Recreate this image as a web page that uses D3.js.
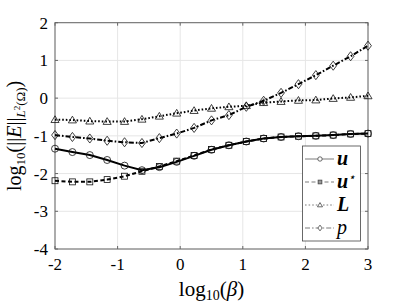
<!DOCTYPE html>
<html>
<head>
<meta charset="utf-8">
<script src="https://cdn.jsdelivr.net/npm/d3@7"></script>
<style>
  body { margin: 0; background: #fff; }
  svg text { font-family: "Liberation Serif", "DejaVu Serif", serif; fill: #000; }
</style>
</head>
<body>
<div id="chart"></div>
<script>
// log10(beta) sample points, 19 of them from -2 to 3
const xValues = [-2, -1.722, -1.444, -1.167, -0.889, -0.611, -0.333, -0.056, 0.222, 0.5,
  0.778, 1.056, 1.333, 1.611, 1.889, 2.167, 2.444, 2.722, 3];

const uValues = [-1.34, -1.43, -1.51, -1.64, -1.79, -1.91, -1.83, -1.69, -1.53, -1.37,
  -1.25, -1.15, -1.07, -1.03, -1.01, -1.00, -0.98, -0.95, -0.94];
const uStarValues = [-2.19, -2.22, -2.22, -2.16, -2.07, -1.94, -1.81, -1.67, -1.52, -1.36,
  -1.25, -1.15, -1.07, -1.03, -1.01, -1.00, -0.98, -0.95, -0.94];
const lValues = [-0.57, -0.58, -0.61, -0.62, -0.62, -0.56, -0.48, -0.40, -0.33, -0.27,
  -0.23, -0.20, -0.12, -0.09, -0.06, -0.05, -0.01, 0.02, 0.06];
const pValues = [-0.98, -1.03, -1.07, -1.13, -1.17, -1.19, -1.06, -0.94, -0.79, -0.59,
  -0.45, -0.23, -0.07, 0.14, 0.37, 0.61, 0.86, 1.11, 1.39];

const xTicks = [-2, -1, 0, 1, 2, 3];
const yTicks = [-4, -3, -2, -1, 0, 1, 2];

const series = [
  { key: "u", values: uValues, dash: null, marker: "circle" },
  { key: "ustar", values: uStarValues, dash: "4,2.5", marker: "square" },
  { key: "L", values: lValues, dash: "1.6,2", marker: "triangle" },
  { key: "p", values: pValues, dash: "5,2,1.6,2", marker: "diamond" }
];

const width = 407, height = 305;
const plot = { left: 55, right: 368, top: 22.7, bottom: 249 };

const svg = d3.select("#chart").append("svg")
  .attr("width", width)
  .attr("height", height);

const x = d3.scaleLinear().domain([-2, 3]).range([plot.left, plot.right]);
const y = d3.scaleLinear().domain([-4, 2]).range([plot.bottom, plot.top]);

// grid
const grid = svg.append("g");
xTicks.forEach(t => {
  grid.append("line")
    .attr("x1", x(t)).attr("x2", x(t))
    .attr("y1", plot.top).attr("y2", plot.bottom)
    .attr("stroke", "#e6e6e6").attr("stroke-width", 1);
});
yTicks.forEach(t => {
  grid.append("line")
    .attr("x1", plot.left).attr("x2", plot.right)
    .attr("y1", y(t)).attr("y2", y(t))
    .attr("stroke", "#e6e6e6").attr("stroke-width", 1);
});

// axes box with inward ticks
const axisColor = "#666";
svg.append("rect")
  .attr("x", plot.left).attr("y", plot.top)
  .attr("width", plot.right - plot.left)
  .attr("height", plot.bottom - plot.top)
  .attr("fill", "none").attr("stroke", axisColor).attr("stroke-width", 1);

const tickLen = 3;
xTicks.forEach(t => {
  svg.append("line").attr("x1", x(t)).attr("x2", x(t))
    .attr("y1", plot.bottom).attr("y2", plot.bottom - tickLen)
    .attr("stroke", axisColor);
  svg.append("line").attr("x1", x(t)).attr("x2", x(t))
    .attr("y1", plot.top).attr("y2", plot.top + tickLen)
    .attr("stroke", axisColor);
  svg.append("text")
    .attr("x", x(t)).attr("y", plot.bottom + 21)
    .attr("text-anchor", "middle")
    .attr("font-size", 17)
    .text(t < 0 ? "-" + Math.abs(t) : t);
});
yTicks.forEach(t => {
  svg.append("line").attr("x1", plot.left).attr("x2", plot.left + tickLen)
    .attr("y1", y(t)).attr("y2", y(t)).attr("stroke", axisColor);
  svg.append("line").attr("x1", plot.right).attr("x2", plot.right - tickLen)
    .attr("y1", y(t)).attr("y2", y(t)).attr("stroke", axisColor);
  svg.append("text")
    .attr("x", plot.left - 7).attr("y", y(t))
    .attr("dy", "0.35em")
    .attr("text-anchor", "end")
    .attr("font-size", 17)
    .text(t < 0 ? "-" + Math.abs(t) : t);
});

// markers
function drawMarker(g, type, cx, cy, s, color, fill) {
  if (type === "circle") {
    g.append("circle").attr("cx", cx).attr("cy", cy).attr("r", s)
      .attr("fill", fill).attr("stroke", color).attr("stroke-width", 0.8);
  } else if (type === "square") {
    g.append("rect").attr("x", cx - s * 0.85).attr("y", cy - s * 0.85)
      .attr("width", s * 1.7).attr("height", s * 1.7)
      .attr("fill", fill).attr("stroke", color).attr("stroke-width", 0.8);
  } else if (type === "triangle") {
    const h = s * 1.1;
    g.append("path")
      .attr("d", `M${cx},${cy - h}L${cx + h * 1.05},${cy + h * 0.75}L${cx - h * 1.05},${cy + h * 0.75}Z`)
      .attr("fill", fill).attr("stroke", color).attr("stroke-width", 0.8);
  } else if (type === "diamond") {
    const h = s * 1.3;
    g.append("path")
      .attr("d", `M${cx},${cy - h}L${cx + h * 0.75},${cy}L${cx},${cy + h}L${cx - h * 0.75},${cy}Z`)
      .attr("fill", fill).attr("stroke", color).attr("stroke-width", 0.8);
  }
}

const line = d3.line()
  .x((d, i) => x(xValues[i]))
  .y(d => y(d));

const dataG = svg.append("g");
series.forEach(s => {
  dataG.append("path")
    .datum(s.values)
    .attr("fill", "none")
    .attr("stroke", "#000")
    .attr("stroke-width", 2)
    .attr("stroke-dasharray", s.dash)
    .attr("d", line);
  s.values.forEach((v, i) => {
    drawMarker(dataG, s.marker, x(xValues[i]), y(v), 3.5, "#111", "none");
  });
});

// legend
const legend = svg.append("g");
legend.append("rect")
  .attr("x", 302.5).attr("y", 146)
  .attr("width", 58).attr("height", 95)
  .attr("fill", "#fff").attr("stroke", "#444").attr("stroke-width", 0.8);

const legendRows = [
  { s: series[0], y: 159, label: "u", bold: true },
  { s: series[1], y: 182, label: "u", sup: "\u22c6", bold: true },
  { s: series[2], y: 205, label: "L", bold: true },
  { s: series[3], y: 228, label: "p", bold: false }
];
legendRows.forEach(r => {
  legend.append("line")
    .attr("x1", 305).attr("x2", 334)
    .attr("y1", r.y).attr("y2", r.y)
    .attr("stroke", "#444").attr("stroke-width", 0.7)
    .attr("stroke-dasharray", r.s.dash);
  drawMarker(legend, r.s.marker, 320, r.y, 2.2, "#444", r.s.marker === "square" ? "#999" : "#fff");
  const t = legend.append("text")
    .attr("x", 337).attr("y", r.y + 5.5)
    .attr("font-size", 20)
    .attr("font-style", "italic")
    .attr("font-weight", r.bold ? "bold" : "normal")
    .text(r.label);
  if (r.sup) {
    t.append("tspan").attr("dy", -7).attr("font-size", 12).attr("font-weight", "normal").text(r.sup);
  }
});

// x label
const xl = svg.append("text")
  .attr("x", x(0.5)).attr("y", 296)
  .attr("text-anchor", "middle")
  .attr("font-size", 21);
xl.append("tspan").text("log");
xl.append("tspan").attr("font-size", 14).attr("dy", 4).text("10");
xl.append("tspan").attr("dy", -4).text("(");
xl.append("tspan").attr("font-style", "italic").text("\u03b2");
xl.append("tspan").text(")");

// y label
const yl = svg.append("text")
  .attr("transform", `translate(21,${(plot.top + plot.bottom) / 2}) rotate(-90)`)
  .attr("text-anchor", "middle")
  .attr("font-size", 20);
yl.append("tspan").text("log");
yl.append("tspan").attr("font-size", 13).attr("dy", 4).text("10");
yl.append("tspan").attr("dy", -4).text("(||");
yl.append("tspan").attr("font-style", "italic").text("E");
yl.append("tspan").text("||");
yl.append("tspan").attr("font-size", 13).attr("font-style", "italic").attr("dy", 4).text("L");
yl.append("tspan").attr("font-size", 9).attr("dy", -5).text("2");
yl.append("tspan").attr("font-size", 13).attr("dy", 5).text("(\u03a9)");
yl.append("tspan").attr("dy", -4).text(")");
</script>
</body>
</html>
